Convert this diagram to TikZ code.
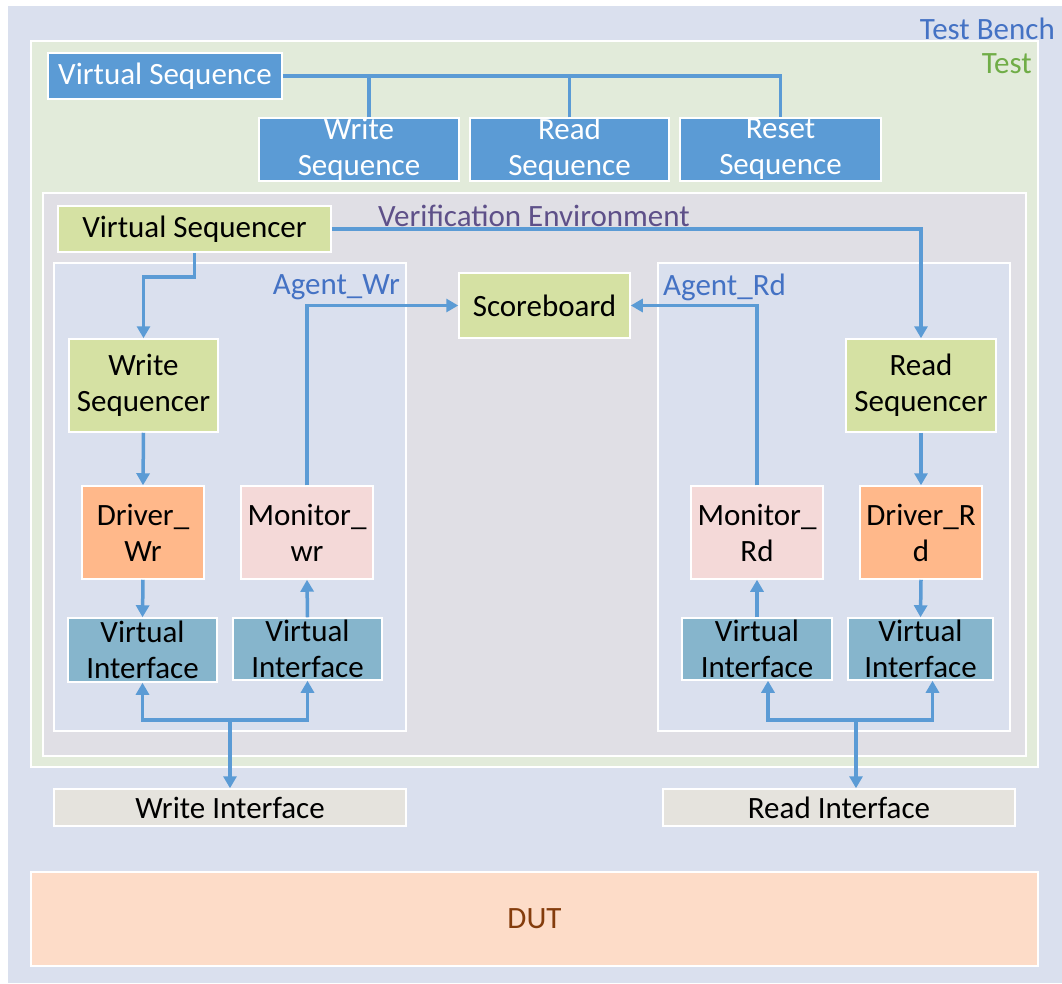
\documentclass[tikz,border=0pt]{standalone}
\usepackage{fontspec}
\setmainfont{Carlito}
\usetikzlibrary{arrows.meta}
\definecolor{benchbg}{HTML}{DAE0EE}
\definecolor{testbg}{HTML}{E2EBDA}
\definecolor{envbg}{HTML}{E0DFE5}
\definecolor{seqblue}{HTML}{5B9BD5}
\definecolor{sqrgreen}{HTML}{D5E1A3}
\definecolor{drvorange}{HTML}{FFB88A}
\definecolor{monpink}{HTML}{F4D9D8}
\definecolor{vifblue}{HTML}{86B5CC}
\definecolor{ifgray}{HTML}{E5E3DD}
\definecolor{dutbg}{HTML}{FDDCC8}
\definecolor{lblblue}{HTML}{4472C4}
\definecolor{lblgreen}{HTML}{70AD47}
\definecolor{lblpurple}{HTML}{5E5089}
\definecolor{dutbrown}{HTML}{843C0C}
\tikzset{
  region/.style={draw=white, line width=1.2pt},
  blk/.style={draw=white, line width=1.5pt, inner sep=0pt, align=center,
    font=\fontsize{31}{36}\selectfont},
  seqbox/.style={blk, fill=seqblue, text=white},
  sqrbox/.style={blk, fill=sqrgreen},
  drvbox/.style={blk, fill=drvorange},
  monbox/.style={blk, fill=monpink},
  vifbox/.style={blk, fill=vifblue},
  ifbox/.style={blk, fill=ifgray},
  lbl/.style={inner sep=0pt, font=\fontsize{31}{36}\selectfont},
  wire/.style={draw=seqblue, line width=3.5pt},
  arr/.style={wire, -{Triangle[width=13pt,length=12pt]}},
}
\begin{document}
\begin{tikzpicture}[x=1pt,y=-1pt]
\useasboundingbox (0,0) rectangle (1062,983);
\fill[white] (0,0) rectangle (1062,983);
% nested regions
\fill[benchbg] (8,6) rectangle (1062,983);
\draw[region, fill=testbg] (31,41) rectangle (1038,767);
\draw[region, fill=envbg] (43,193) rectangle (1026,756);
\draw[region, fill=benchbg] (54,263) rectangle (406,731);
\draw[region, fill=benchbg] (658,263) rectangle (1010,731);
\draw[region, fill=dutbg] (31,872) rectangle (1038,966);
% region labels
\node[lbl, text=lblblue, anchor=east] (tbl) at (1055,29) {Test Bench};
\node[lbl, text=lblgreen, anchor=east] (tl) at (1032,64) {Test};
\node[lbl, text=lblpurple] (vel) at (534,216) {Verification Environment};
\node[lbl, text=lblblue, anchor=east] (awl) at (400,287) {Agent\_Wr};
\node[lbl, text=lblblue, anchor=west] (arl) at (663,287) {Agent\_Rd};
\node[lbl, text=dutbrown] (dut) at (534.5,919) {DUT};
% sequences
\node[seqbox, minimum width=234, minimum height=46] (vseq) at (165,76) {Virtual Sequence};
\node[seqbox, minimum width=200, minimum height=63] (wsq) at (359,149.5) {Write\\Sequence};
\node[seqbox, minimum width=199, minimum height=63] (rsq) at (569.5,149.5) {Read\\Sequence};
\node[seqbox, minimum width=201, minimum height=63] (xsq) at (780.5,149.5) {Reset\\Sequence};
% sequencers and scoreboard
\node[sqrbox, minimum width=273, minimum height=46] (vsqr) at (194.5,229) {Virtual Sequencer};
\node[sqrbox, minimum width=171, minimum height=65] (sb) at (544.5,305.5) {Scoreboard};
\node[sqrbox, minimum width=149, minimum height=93] (wsqr) at (143.5,385.5) {Write\\Sequencer};
\node[sqrbox, minimum width=150, minimum height=93] (rsqr) at (921,385.5) {Read\\Sequencer};
% drivers and monitors
\node[drvbox, minimum width=122, minimum height=93] (dwr) at (143,532.5) {Driver\_\\Wr};
\node[monbox, minimum width=132, minimum height=93] (mwr) at (307,532.5) {Monitor\_\\wr};
\node[monbox, minimum width=132, minimum height=93] (mrd) at (757,532.5) {Monitor\_\\Rd};
\node[drvbox, minimum width=122, minimum height=93] (drd) at (921,532.5) {Driver\_R\\d};
% virtual interfaces
\node[vifbox, minimum width=149, minimum height=64] (viw1) at (142.5,650) {Virtual\\Interface};
\node[vifbox, minimum width=149, minimum height=62] (viw2) at (307.5,649) {Virtual\\Interface};
\node[vifbox, minimum width=150, minimum height=62] (vir1) at (757,649) {Virtual\\Interface};
\node[vifbox, minimum width=145, minimum height=62] (vir2) at (920.5,649) {Virtual\\Interface};
% pin interfaces
\node[ifbox, minimum width=352, minimum height=37] (wif) at (230,807.5) {Write Interface};
\node[ifbox, minimum width=352, minimum height=37] (rif) at (839,807.5) {Read Interface};
% virtual sequence fan-out
\draw[wire] (vseq.east) -| (xsq.north);
\draw[wire] ([xshift=10pt]wsq.north) -- ([xshift=10pt]wsq.north |- vseq.east);
\draw[wire] (rsq.north) -- (rsq.north |- vseq.east);
% sequencer control
\draw[arr] (vsqr.south) -- ++(0,24) -| (wsqr.north);
\draw[arr] (vsqr.east) -| (rsqr.north);
\draw[arr] (wsqr.south) -- (dwr.north);
\draw[arr] (rsqr.south) -- (drd.north);
\draw[arr] (dwr.south) -- (viw1.north);
\draw[arr] (drd.south) -- (vir2.north);
\draw[arr] (viw2.north) -- (mwr.south);
\draw[arr] (vir1.north) -- (mrd.south);
% monitors to scoreboard
\draw[arr] (mwr.north) |- (sb.west);
\draw[arr] (mrd.north) |- (sb.east);
% write side bus
\coordinate (wj) at (230,720);
\draw[arr] (wj) -| (viw1.south);
\draw[arr] (wj) -| (viw2.south);
\draw[arr] (wj) -- (wif.north);
% read side bus
\coordinate (rj) at (856,720);
\draw[arr] (rj) -| ([xshift=11pt]vir1.south);
\draw[arr] (rj) -| ([xshift=12pt]vir2.south);
\draw[arr] (rj) -- (rj |- rif.north);
\end{tikzpicture}
\end{document}
